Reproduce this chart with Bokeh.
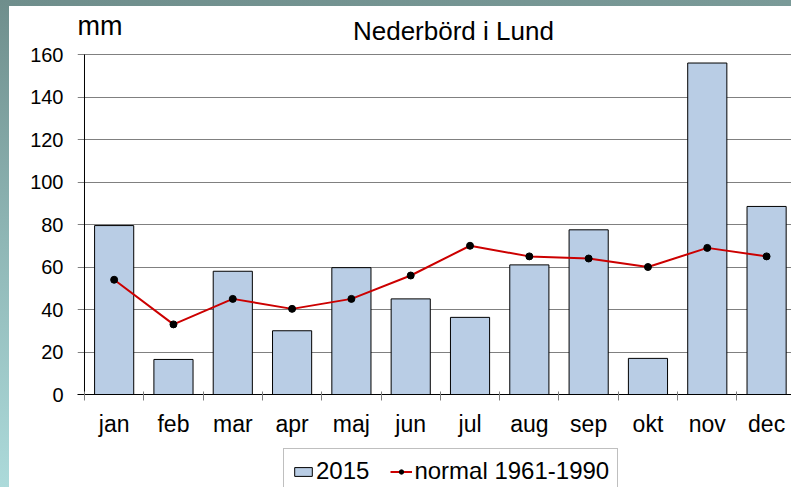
import numpy as np
from bokeh.plotting import figure
from bokeh.layouts import column
from bokeh.models import (Range1d, FixedTicker, Legend, LegendItem, Label,
                          ColumnDataSource, Grid)
from bokeh.embed import file_html
from bokeh.resources import INLINE

months = ["jan", "feb", "mar", "apr", "maj", "jun", "jul", "aug", "sep", "okt", "nov", "dec"]
rain_2015 = [79.5, 16.5, 58, 30, 59.7, 45, 36.3, 61, 77.5, 17, 156, 88.5]
normal_1961_1990 = [54, 33, 45, 40.3, 45, 56, 70, 65, 64, 60, 69, 65]
y_ticks = [0, 20, 40, 60, 80, 100, 120, 140, 160]
title_text = "Nederbörd i Lund"
unit_text = "mm"
series_names = ["2015", "normal 1961-1990"]

FONT = "Liberation Sans"
BAR_FILL = "#b9cde5"
LINE_RED = "#cc0000"

xc = np.arange(len(months)) + 0.5
src = ColumnDataSource(dict(x=xc, rain=rain_2015, normal=normal_1961_1990))

X0 = -0.118   # small room left of the y axis (tick stubs)
p = figure(width=782, height=435, output_backend="svg", toolbar_location=None,
           x_range=Range1d(X0, 11.92), y_range=Range1d(0, 182.6),
           min_border_left=68, min_border_right=0, min_border_top=0,
           min_border_bottom=47, background_fill_color="white",
           border_fill_color="white", outline_line_color=None)

# grid
p.xgrid.grid_line_color = None
p.ygrid.ticker = FixedTicker(ticks=y_ticks)
p.ygrid.grid_line_color = "#808080"
p.ygrid.grid_line_width = 1

bars = p.vbar(x="x", top="rain", width=0.66, source=src,
              fill_color=BAR_FILL, line_color="black", line_width=1)
# y axis line (from first to last tick)
p.segment(x0=[0], y0=[y_ticks[0]], x1=[0], y1=[y_ticks[-1]],
          line_color="black", line_width=1)
line = p.line(x="x", y="normal", source=src, line_color=LINE_RED, line_width=2)
dots = p.scatter(x="x", y="normal", source=src, size=7, fill_color="black",
                 line_color="black")

# y axis: labels only
p.yaxis.ticker = FixedTicker(ticks=y_ticks)
p.yaxis.axis_line_color = None
p.yaxis.major_tick_line_color = None
p.yaxis.major_tick_out = 0
p.yaxis.major_tick_in = 0
p.yaxis.minor_tick_line_color = None
p.yaxis.major_label_text_font = FONT
p.yaxis.major_label_text_font_size = "20px"
p.yaxis.major_label_text_color = "black"
p.yaxis.major_label_standoff = 14

# x axis: labels at centres, ticks at boundaries
bounds = list(np.arange(len(months) + 1))
p.xaxis.ticker = FixedTicker(ticks=list(xc), minor_ticks=bounds)
p.xaxis.major_label_overrides = {float(x): m for x, m in zip(xc, months)}
p.xaxis.axis_line_color = "black"
p.xaxis.major_tick_line_color = None
p.xaxis.major_tick_out = 0
p.xaxis.major_tick_in = 0
p.xaxis.minor_tick_line_color = "#808080"
p.xaxis.minor_tick_out = 6
p.xaxis.minor_tick_in = 3
p.xaxis.major_label_text_font = FONT
p.xaxis.major_label_text_font_size = "23px"
p.xaxis.major_label_text_color = "black"
p.xaxis.major_label_standoff = 10

# title and unit, drawn inside the (extended) frame
p.add_layout(Label(x=6.22, y=171.3, text=title_text, text_font=FONT,
                   text_font_size="26px", text_color="black",
                   text_align="center", text_baseline="alphabetic"))
p.add_layout(Label(x=X0, y=173.5, text=unit_text, text_font=FONT,
                   text_font_size="27px", text_color="black",
                   text_align="left", text_baseline="alphabetic"))

# legend strip below (its glyphs lie outside its visible ranges)
pl = figure(width=782, height=46, output_backend="svg", toolbar_location=None,
            x_range=Range1d(100, 101), y_range=Range1d(1000, 1001),
            min_border_left=68, min_border_right=0, min_border_top=0,
            min_border_bottom=0, x_axis_location=None, y_axis_location=None,
            background_fill_color="white", border_fill_color="white",
            outline_line_color=None)
for r in list(pl.center):
    if isinstance(r, Grid):
        r.visible = False
        r.grid_line_color = None
lb = pl.vbar(x="x", top="rain", width=0.66, source=src,
             fill_color=BAR_FILL, line_color="black", line_width=1)
ll = pl.line(x="x", y="normal", source=src, line_color=LINE_RED, line_width=2)
ld = pl.scatter(x="x", y="normal", source=src, size=6, fill_color="black",
                line_color="black")
legend = Legend(items=[LegendItem(label=series_names[0], renderers=[lb]),
                       LegendItem(label=series_names[1], renderers=[ll, ld])],
                orientation="horizontal", location=(206, -7),
                label_text_font=FONT, label_text_font_size="24px",
                label_text_color="black", border_line_color="#808080",
                border_line_width=1, glyph_width=22, glyph_height=11,
                spacing=21, padding=8, margin=0, label_standoff=2,
                background_fill_color="white")
pl.add_layout(legend, "center")

layout = column(p, pl, spacing=0)

html = file_html(layout, INLINE)
style = ("<style>html,body{margin:0;}body{padding:6px 0 0 9px;overflow:hidden;"
         "background:"
         "linear-gradient(to bottom,#6f8e8c 0%,#8fb7b6 50%,#acdada 100%) left top/9px 100% no-repeat,"
         "linear-gradient(to right,#6f8e8c,#7a9a98) left top/100% 6px no-repeat,"
         "white;min-height:100vh;}</style>")
html = html.replace("</head>", style + "</head>", 1)
open("out.html", "w").write(html)
